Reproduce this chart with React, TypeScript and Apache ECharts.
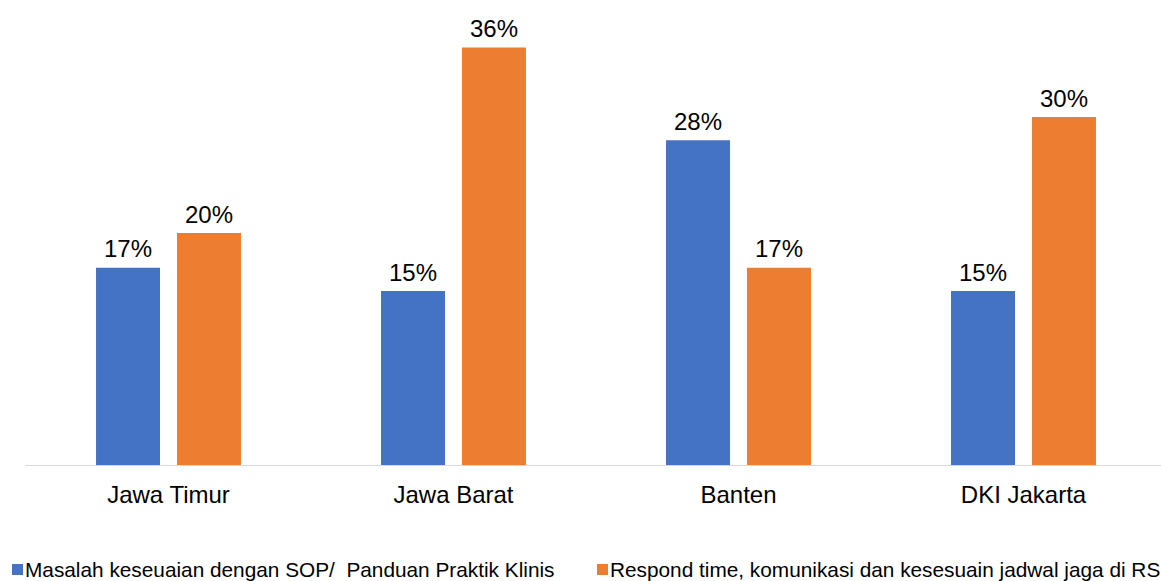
import React, { useEffect, useRef } from "react";
import * as echarts from "echarts";

const categories = ["Jawa Timur", "Jawa Barat", "Banten", "DKI Jakarta"];
const seriesNames = [
  "Masalah keseuaian dengan SOP/  Panduan Praktik Klinis",
  "Respond time, komunikasi dan kesesuain jadwal jaga di RS",
];
const sopValues = [17, 15, 28, 15];
const respondValues = [20, 36, 17, 30];

export default function App() {
  const ref = useRef<HTMLDivElement>(null);
  useEffect(() => {
    if (!ref.current) return;
    const chart = echarts.init(ref.current, undefined, { renderer: "svg" });
    const font = "Liberation Sans, Arial, sans-serif";
    const legendText = { fontSize: 20.8, color: "#000", fontFamily: font, padding: [0, 0, 0, -3] };
    chart.setOption({
      animation: false,
      textStyle: { fontFamily: font },
      grid: { left: 26, top: 1, width: 1140, height: 464, outerBoundsMode: "none", containLabel: false },
      xAxis: {
        type: "category",
        data: categories,
        axisLine: { show: true, lineStyle: { color: "#d9d9d9", width: 1 } },
        axisTick: { show: false },
        axisLabel: { fontSize: 24, color: "#000", margin: 17, fontFamily: font },
      },
      yAxis: {
        type: "value",
        min: 0,
        max: 40,
        show: false,
        splitLine: { show: false },
      },
      legend: [
        {
          data: [seriesNames[0]],
          left: 7,
          top: 554,
          icon: "rect",
          itemWidth: 11,
          itemHeight: 11,
          itemGap: 0,
          textStyle: legendText,
        },
        {
          data: [seriesNames[1]],
          left: 592,
          top: 554,
          icon: "rect",
          itemWidth: 11,
          itemHeight: 11,
          itemGap: 0,
          textStyle: legendText,
        },
      ],
      series: [
        {
          name: seriesNames[0],
          type: "bar",
          data: sopValues,
          barWidth: 64,
          barGap: "26.5%",
          itemStyle: { color: "#4472C4" },
          label: {
            show: true,
            position: "top",
            distance: 7,
            formatter: "{c}%",
            fontSize: 24,
            color: "#000",
            fontFamily: font,
          },
        },
        {
          name: seriesNames[1],
          type: "bar",
          data: respondValues,
          barWidth: 64,
          itemStyle: { color: "#ED7D31" },
          label: {
            show: true,
            position: "top",
            distance: 7,
            formatter: "{c}%",
            fontSize: 24,
            color: "#000",
            fontFamily: font,
          },
        },
      ],
    });
    return () => chart.dispose();
  }, []);
  return (
    <div
      ref={ref}
      style={{ position: "fixed", left: 0, top: 0, width: 1161, height: 581, background: "#fff" }}
    />
  );
}
